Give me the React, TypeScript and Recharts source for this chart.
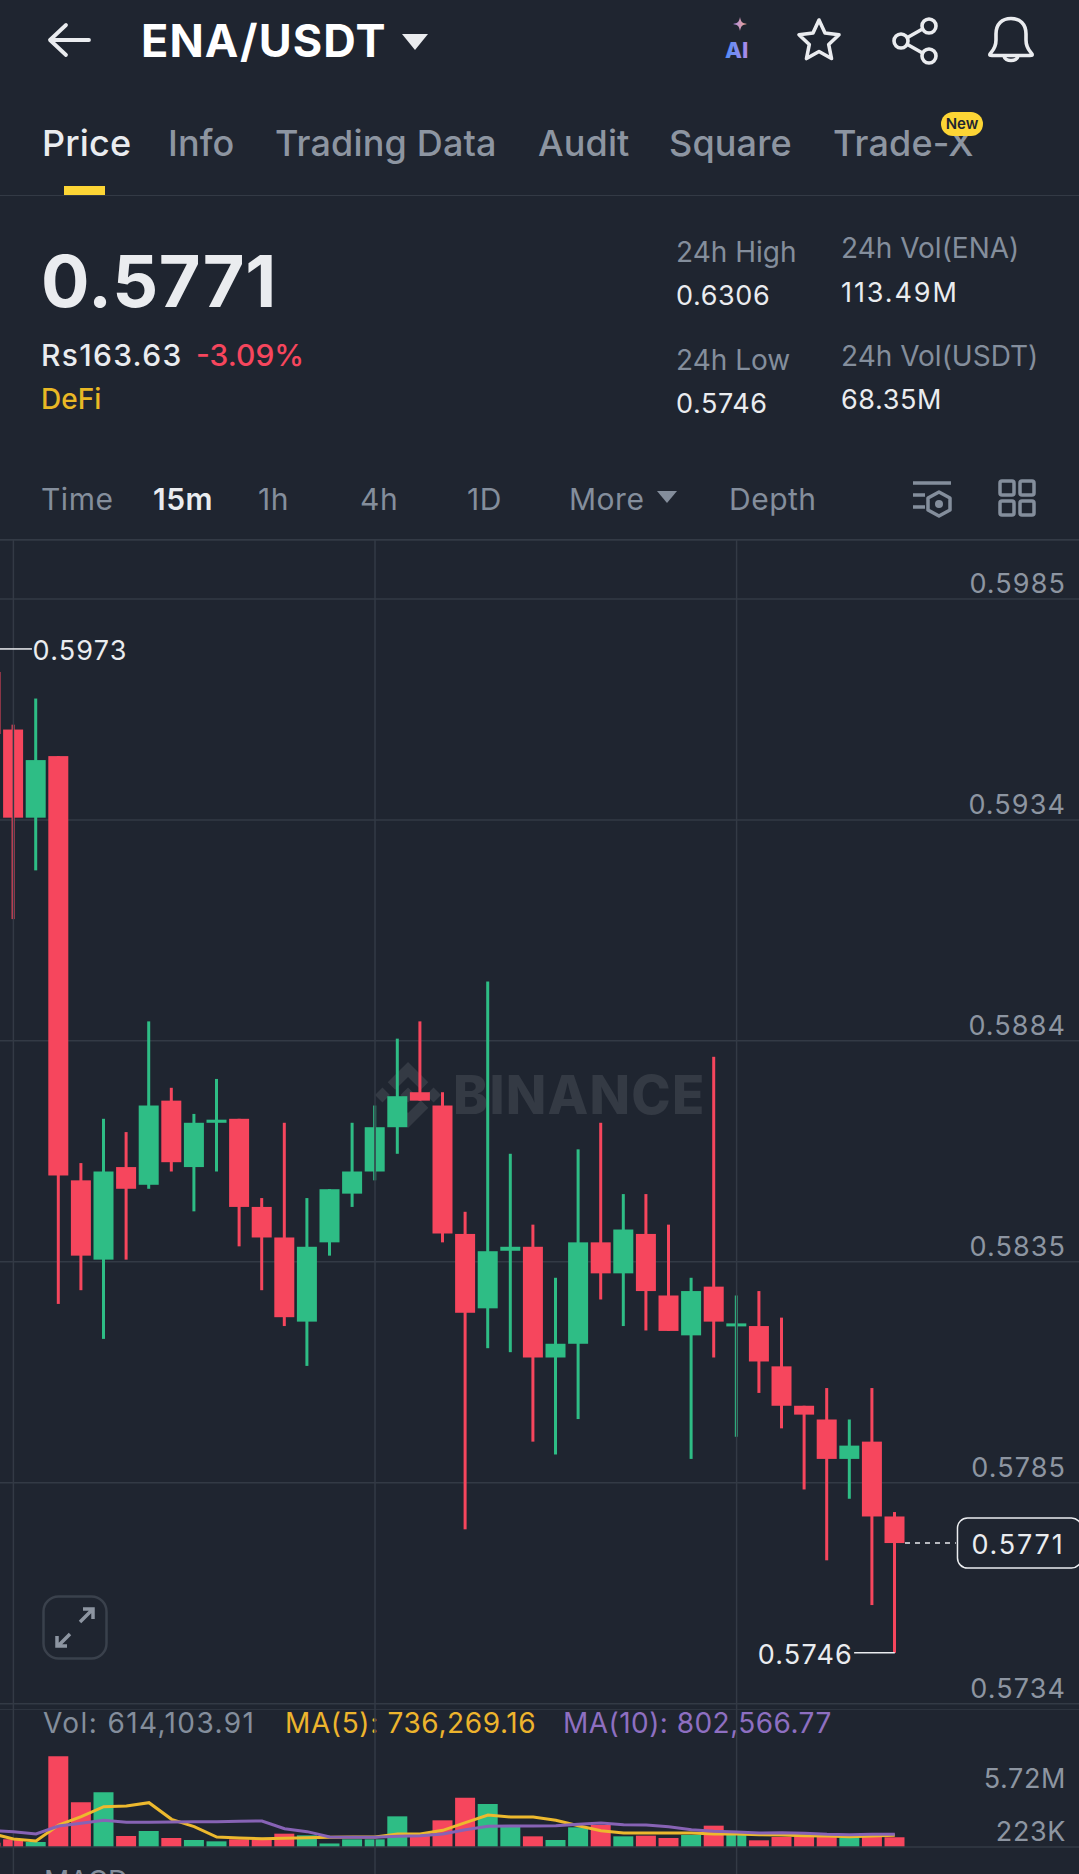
import React from 'react';
import { ComposedChart, Bar, Line, XAxis, YAxis, CartesianGrid, Cell, ReferenceLine, ReferenceDot } from 'recharts';

const slots = [-1,0,1,2,3,4,5,6,7,8,9,10,11,12,13,14,15,16,17,18,19,20,21,22,23,24,25,26,27,28,29,30,31,32,33,34,35,36,37,38,39];
const highs = [0.5973,0.59559,0.59618,0.59488,0.58569,0.58669,0.58639,0.58889,0.58739,0.5868,0.58759,0.58669,0.5849,0.5866,0.5849,0.5851,0.5866,0.58699,0.5885,0.58889,0.58729,0.58459,0.58979,0.5859,0.5843,0.5831,0.586,0.5866,0.58499,0.58499,0.5843,0.5831,0.58809,0.5827,0.5828,0.5822,0.58021,0.58061,0.5799,0.58061,0.57781];
const opens = [0.59678,0.59548,0.59349,0.59488,0.5853,0.58351,0.5856,0.5852,0.5871,0.5856,0.5866,0.58669,0.5847,0.58401,0.58211,0.5839,0.585,0.5855,0.5865,0.58729,0.58699,0.58409,0.58241,0.58371,0.5838,0.5813,0.58161,0.5839,0.5832,0.58409,0.5827,0.5818,0.5829,0.58202,0.58201,0.5811,0.58021,0.5799,0.57901,0.5794,0.57771];
const closes = [0.59538,0.59349,0.59479,0.58541,0.5836,0.5855,0.58511,0.58699,0.58571,0.5866,0.58667,0.5847,0.58401,0.58221,0.5838,0.5851,0.5855,0.5865,0.5872,0.5871,0.5841,0.58231,0.5837,0.5838,0.5813,0.58161,0.5839,0.5832,0.58419,0.5828,0.5819,0.5828,0.58211,0.58207,0.58121,0.58021,0.58001,0.57901,0.57931,0.57771,0.57711];
const lows = [0.59538,0.5912,0.5923,0.58251,0.58282,0.58172,0.58351,0.58511,0.5855,0.5846,0.5855,0.58381,0.58282,0.58201,0.58111,0.5836,0.5847,0.5853,0.5859,0.5871,0.5839,0.57742,0.58151,0.58142,0.5794,0.57911,0.57991,0.58261,0.58201,0.58191,0.5819,0.57901,0.5813,0.57951,0.5805,0.5797,0.57832,0.57672,0.57811,0.57571,0.57463];
const volumes = [273000,484000,315000,5720000,2818000,3449000,694000,1010000,568000,442000,358000,484000,484000,841000,736000,223000,484000,484000,1935000,694000,1683000,3113000,2713000,1283000,673000,442000,1241000,1388000,673000,715000,568000,757000,1346000,820000,421000,631000,715000,631000,589000,652000,614104];
const ma5 = [862000,505000,379000,1388000,1914000,2545000,2587000,2797000,1746000,1283000,631000,568000,526000,547000,589000,610000,631000,631000,820000,820000,1052000,1535000,2019000,1893000,1893000,1683000,1346000,1031000,883000,883000,883000,883000,820000,820000,778000,757000,715000,694000,652000,694000,736269];
const ma10 = [1031000,968000,820000,1325000,1493000,1683000,1556000,1556000,1577000,1598000,1598000,1620000,1641000,1157000,968000,631000,610000,610000,673000,715000,820000,1094000,1304000,1325000,1325000,1346000,1430000,1514000,1409000,1388000,1283000,1094000,989000,946000,883000,904000,862000,799000,778000,799000,802567];

const priceTickValues = [0.59843,0.59344,0.58845,0.58346,0.57847,0.57348];
const priceTickLabels = ['0.5985','0.5934','0.5884','0.5835','0.5785','0.5734'];
const volTickValues = [223000,5720000];
const volTickLabels = ['223K','5.72M'];
const gridSlots = [0,16,32];
const tabs = ['Price','Info','Trading Data','Audit','Square','Trade-X'];
const intervals = ['Time','15m','1h','4h','1D','More','Depth'];

const rows = slots.map((i, k) => ({ i, high: highs[k], open: opens[k], close: closes[k], low: lows[k], range: [lows[k], highs[k]], vol: volumes[k], ma5: ma5[k], ma10: ma10[k] }));

const BG = '#1f2530';
const GRID = '#333a45';
const RED = '#f6465d';
const GREEN = '#2ebd85';
const WHITE = '#eaecef';
const GREY = '#848e9c';
const FONT = 'Inter, "Noto Sans", sans-serif';
const xDomain: [number, number] = [-0.593, 47.15];

const Candle = (props: any) => {
  const { x, y, width, height, payload } = props;
  const top = Math.min(y, y + height);
  const h = Math.abs(height);
  const span = payload.high - payload.low || 1;
  const py = (v: number) => top + ((payload.high - v) / span) * h;
  const color = payload.close >= payload.open ? GREEN : RED;
  const bodyTop = py(Math.max(payload.open, payload.close));
  const bodyBot = py(Math.min(payload.open, payload.close));
  const cx = x + width / 2;
  return (
    <g>
      <rect x={cx - 1.5} y={top} width={3} height={h} fill={color} />
      <rect x={x} y={bodyTop} width={width} height={Math.max(bodyBot - bodyTop, 3)} fill={color} />
    </g>
  );
};

const PriceTick = (props: any) => {
  const idx = priceTickValues.indexOf(props.payload.value);
  return <text x={1066} y={props.y - 15} textAnchor="end" dominantBaseline="central" fontSize={27} letterSpacing={1.1} fontFamily={FONT} fill="#8d95a1">{priceTickLabels[idx]}</text>;
};
const VolTick = (props: any) => {
  const idx = volTickValues.indexOf(props.payload.value);
  return <text x={1066} y={props.y + (idx === 1 ? 22 : -12)} textAnchor="end" dominantBaseline="central" fontSize={27} letterSpacing={0.6} fontFamily={FONT} fill="#8d95a1">{volTickLabels[idx]}</text>;
};
const mark = (label: string, anchor: 'start' | 'end') => (p: any) => (
  <text x={p.cx} y={p.cy + 2} textAnchor={anchor} dominantBaseline="central" fontSize={27} letterSpacing={1.2} fontFamily={FONT} fill={WHITE}>{label}</text>
);
const LastBox = (p: any) => (
  <g>
    <rect x={p.cx - 60.5} y={p.cy - 25} width={124} height={50} rx={10} fill={BG} stroke={WHITE} strokeWidth={1.5} />
    <text x={p.cx} y={p.cy + 1} textAnchor="middle" dominantBaseline="central" fontSize={27} letterSpacing={1.8} fontFamily={FONT} fill={WHITE}>0.5771</text>
  </g>
);

const T = ({ x, y, s, c = GREY, w = 400, children, ls }: any) => (
  <span style={{ position: 'absolute', left: x, top: y, transform: 'translateY(-50%)', fontSize: s, color: c, fontWeight: w, lineHeight: 1, whiteSpace: 'nowrap', letterSpacing: ls }}>{children}</span>
);
const Icon = ({ x, y, w, h, children }: any) => (
  <svg style={{ position: 'absolute', left: x, top: y }} width={w} height={h} viewBox={`0 0 ${w} ${h}`} fill="none">{children}</svg>
);

const tabX = [42, 168, 275, 538, 669, 833];
const intervalX = [41, 153, 258, 360, 467, 569, 729];

export default function App() {
  return (
    <div style={{ position: 'absolute', left: 0, top: 0, width: 1079, height: 1874, background: BG, overflow: 'hidden', fontFamily: FONT }}>
      {/* top bar */}
      <Icon x={44} y={20} w={50} h={40}>
        <path d="M45 20H6M22 5 6 20l16 15" stroke={WHITE} strokeWidth={3.8} strokeLinecap="round" strokeLinejoin="round" />
      </Icon>
      <T x={141} y={40} s={45} c="#fff" w={700} ls={1.1}>ENA/USDT</T>
      <Icon x={400} y={32} w={30} h={20}><path d="M2 2h26L15 18z" fill={WHITE} /></Icon>
      <Icon x={720} y={12} w={36} h={50}>
        <defs>
          <linearGradient id="aig" x1="0" x2="1"><stop offset="0" stopColor="#4f8df7" /><stop offset="1" stopColor="#b08be8" /></linearGradient>
          <linearGradient id="sg" x1="0" x2="1"><stop offset="0" stopColor="#a98ce8" /><stop offset="1" stopColor="#f0a58a" /></linearGradient>
        </defs>
        <path d="M20 5c1 5 2 6 7 7-5 1-6 2-7 7-1-5-2-6-7-7 5-1 6-2 7-7z" fill="url(#sg)" />
        <text x={5} y={46} fontSize={22} fontWeight={800} fontFamily={FONT} fill="url(#aig)">AI</text>
      </Icon>
      <Icon x={794} y={15} w={50} h={50}>
        <path d="M25 5l6 13 14 1.800-10.300 9.700 2.800 14-12.500-7-12.500 7 2.800-14L5 19.800 19 18z" stroke={WHITE} strokeWidth={3.6} strokeLinejoin="round" />
      </Icon>
      <Icon x={890} y={15} w={50} h={50}>
        <circle cx={39} cy={11} r={7} stroke={WHITE} strokeWidth={3.6} />
        <circle cx={11} cy={26} r={7} stroke={WHITE} strokeWidth={3.6} />
        <circle cx={39} cy={41} r={7} stroke={WHITE} strokeWidth={3.6} />
        <path d="M17.500 22.500 32.500 14M17.500 29.500 32.500 38" stroke={WHITE} strokeWidth={3.6} />
      </Icon>
      <Icon x={986} y={13} w={50} h={52}>
        <path d="M4 41c1-2 6-5 6-14v-6C10 11 16 5.500 25 5.500S40 11 40 21v6c0 9 5 12 6 14 .500 1.500 0 1.500-2 1.500H6c-2 0-2.500 0-2-1.500z" stroke={WHITE} strokeWidth={3.6} strokeLinejoin="round" />
        <path d="M18 43c1 6 13 6 14 0" stroke={WHITE} strokeWidth={3.6} />
      </Icon>

      {/* tabs */}
      {tabs.map((t, i) => <T key={t} x={tabX[i]} y={143} s={36} c={i === 0 ? WHITE : '#8d95a1'} w={500} ls={0.15}>{t}</T>)}
      <div style={{ position: 'absolute', left: 941, top: 112, width: 42, height: 24, borderRadius: 12, background: '#fcd535', color: '#1e2530', fontSize: 15, fontWeight: 600, lineHeight: '24px', textAlign: 'center' }}>New</div>
      <div style={{ position: 'absolute', left: 64, top: 186, width: 41, height: 9, background: '#fcd535' }} />
      <div style={{ position: 'absolute', left: 0, top: 195, width: 1079, height: 1, background: GRID }} />

      {/* summary */}
      <T x={41} y={281} s={72} c={WHITE} w={700} ls={0.6}>0.5771</T>
      <T x={41} y={355} s={30} c={WHITE} w={500} ls={1.3}>Rs163.63</T>
      <T x={196} y={355} s={30} c={RED} w={500}>-3.09%</T>
      <T x={41} y={399} s={28} c="#e9b825" w={500}>DeFi</T>
      <T x={676} y={252} s={28}>24h High</T>
      <T x={676} y={295} s={27} c={WHITE} ls={0.6}>0.6306</T>
      <T x={676} y={360} s={28}>24h Low</T>
      <T x={676} y={403} s={27} c={WHITE} ls={0.6}>0.5746</T>
      <T x={841} y={248} s={28}>24h Vol(ENA)</T>
      <T x={841} y={292} s={27} c={WHITE} ls={1.9}>113.49M</T>
      <T x={841} y={356} s={28}>24h Vol(USDT)</T>
      <T x={841} y={399} s={27} c={WHITE} ls={0.6}>68.35M</T>

      {/* interval row */}
      {intervals.map((t, i) => <T key={t} x={intervalX[i]} y={499} s={30} c={i === 1 ? WHITE : GREY} w={i === 1 ? 600 : 400} ls={0.5}>{t}</T>)}
      <Icon x={655} y={488} w={24} h={18}><path d="M2 3h20l-10 12z" fill={GREY} /></Icon>
      <Icon x={910} y={476} w={46} h={46}>
        <path d="M3 7h38M3 19h12M3 31h12" stroke={GREY} strokeWidth={3.5} />
        <path d="M29 16l11 6v12l-11 6-11-6V22z" stroke={GREY} strokeWidth={3.5} strokeLinejoin="round" />
        <circle cx={29} cy={28} r={4} fill={GREY} />
      </Icon>
      <Icon x={997} y={478} w={40} h={40}>
        {[[3, 3], [23, 3], [3, 23], [23, 23]].map(([a, b]) => <rect key={`${a}${b}`} x={a} y={b} width={14} height={14} rx={2} stroke={GREY} strokeWidth={3.5} />)}
      </Icon>
      <div style={{ position: 'absolute', left: 0, top: 539, width: 1079, height: 1, background: GRID }} />

      {/* watermark */}
      <Icon x={375} y={1062} w={66} h={66}>
        <g transform="scale(0.5213)" fill="#343a44">
          <path d="M38.73 53.2l24.59-24.58 24.6 24.6 14.3-14.31L63.32 0 24.43 38.9zM0 63.31l14.3-14.31 14.31 14.31-14.31 14.3zM38.73 73.41L63.32 97.99l24.6-24.6 14.31 14.29-.01.01-38.9 38.91-38.9-38.88-.02-.02zM97.99 63.31l14.3-14.31 14.31 14.31-14.31 14.3zM77.83 63.3l-14.51-14.52L52.59 59.51l-1.24 1.23-2.54 2.54 14.51 14.5 14.51-14.47z" />
        </g>
      </Icon>
      <T x={453} y={1095} s={53} c="#343a44" w={800} ls={1.2}>BINANCE</T>

      {/* candles */}
      <div style={{ position: 'absolute', left: 0, top: 540 }}>
        <ComposedChart width={1079} height={1170} data={rows} margin={{ top: 0, right: 0, bottom: 0, left: 0 }}>
          <CartesianGrid stroke={GRID} strokeWidth={1.5} vertical={false} />
          <XAxis type="number" dataKey="i" domain={xDomain} allowDataOverflow hide ticks={gridSlots} />
          <YAxis orientation="right" mirror width={1} domain={[0.57334, 0.59976]} allowDataOverflow ticks={priceTickValues} tick={PriceTick} axisLine={false} tickLine={false} interval={0} />
          {gridSlots.map((s) => <ReferenceLine key={s} x={s} stroke={GRID} strokeWidth={1.5} />)}
          <Bar dataKey="range" barSize={20} shape={Candle} isAnimationActive={false} />
          <ReferenceLine segment={[{ x: -0.593, y: 0.5973 }, { x: 0.82, y: 0.5973 }]} stroke={WHITE} strokeWidth={1.5} ifOverflow="visible" />
          <ReferenceDot x={0.85} y={0.5973} shape={mark('0.5973', 'start')} ifOverflow="visible" />
          <ReferenceLine segment={[{ x: 37.2, y: 0.57463 }, { x: 39, y: 0.57463 }]} stroke={WHITE} strokeWidth={1.5} ifOverflow="visible" />
          <ReferenceDot x={37.15} y={0.57463} shape={mark('0.5746', 'end')} ifOverflow="visible" />
          <ReferenceLine segment={[{ x: 39.45, y: 0.57711 }, { x: 41.7, y: 0.57711 }]} stroke={WHITE} strokeWidth={1.5} strokeDasharray="5 5" ifOverflow="visible" />
          <ReferenceDot x={44.45} y={0.57711} shape={LastBox} ifOverflow="visible" />
        </ComposedChart>
      </div>

      {/* expand button */}
      <Icon x={42} y={1595} w={68} h={66}>
        <rect x={1.500} y={1.500} width={63} height={62} rx={15} stroke="#3a414c" strokeWidth={2.5} />
        <path d="M38 27 50 15M41 14h10v10M28 39 16 51M15 41v10h10" stroke="#8d95a1" strokeWidth={3.5} />
      </Icon>

      {/* volume legend */}
      <T x={43} y={1723} s={28} ls={1.4}>Vol: 614,103.91</T>
      <T x={285} y={1723} s={28} c="#edb42d" ls={0.63}>MA(5): 736,269.16</T>
      <T x={563} y={1723} s={28} c="#8e6fc1" ls={0.46}>MA(10): 802,566.77</T>

      {/* volume */}
      <div style={{ position: 'absolute', left: 0, top: 1710 }}>
        <ComposedChart width={1079} height={164} data={rows} margin={{ top: 0, right: 0, bottom: 0, left: 0 }}>
          <XAxis type="number" dataKey="i" domain={xDomain} allowDataOverflow hide ticks={gridSlots} />
          <YAxis orientation="right" mirror width={1} domain={[-1703700, 8644700]} allowDataOverflow ticks={volTickValues} tick={VolTick} axisLine={false} tickLine={false} interval={0} />
          {gridSlots.map((s) => <ReferenceLine key={s} x={s} stroke={GRID} strokeWidth={1.5} />)}
          <ReferenceLine y={0} stroke={GRID} strokeWidth={1.5} />
          <Bar dataKey="vol" barSize={20} isAnimationActive={false}>
            {rows.map((r) => <Cell key={r.i} fill={r.close >= r.open ? GREEN : RED} />)}
          </Bar>
          <Line dataKey="ma5" stroke="#edb92e" strokeWidth={3} dot={false} activeDot={false} isAnimationActive={false} />
          <Line dataKey="ma10" stroke="#8763b5" strokeWidth={3} dot={false} activeDot={false} isAnimationActive={false} />
        </ComposedChart>
      </div>

      <T x={44} y={1881} s={28}>MACD</T>
    </div>
  );
}
